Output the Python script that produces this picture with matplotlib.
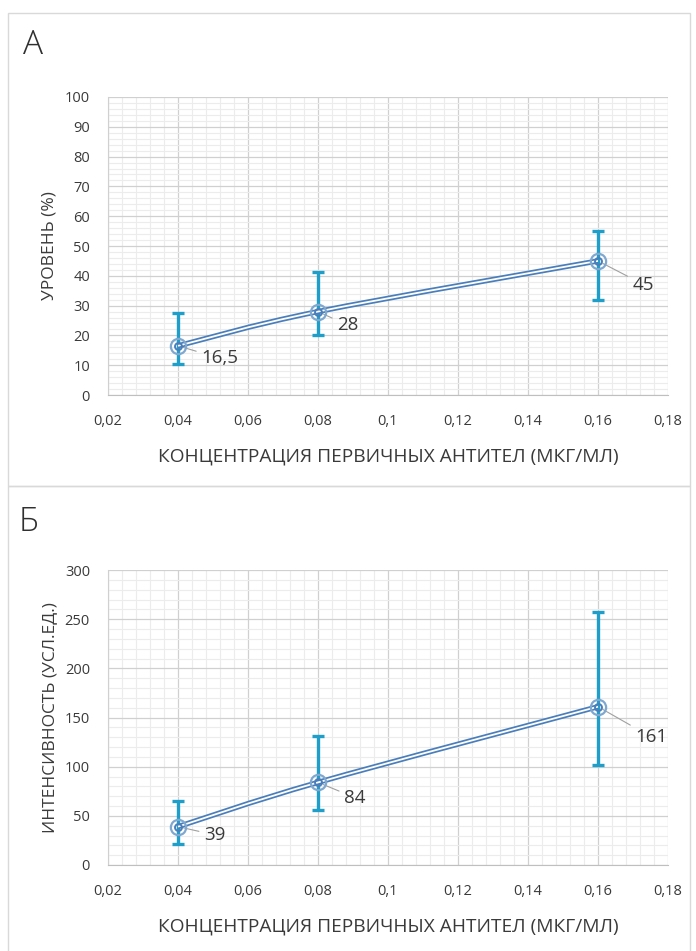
import matplotlib.pyplot as plt
import matplotlib.patheffects as pe
from matplotlib.patches import Rectangle, PathPatch
from matplotlib.path import Path
from matplotlib.ticker import MultipleLocator, FuncFormatter

plt.rcParams['font.family'] = ['Open Sans', 'DejaVu Sans']

# Концентрация первичных антител (мкг/мл)
konc = [0.04, 0.08, 0.16]

# Панель А: уровень (%)
uroven = [16.5, 28, 45]
uroven_err_niz = [6.2, 8.0, 13.0]
uroven_err_verh = [11.0, 13.2, 10.0]
uroven_podpisi = ['16,5', '28', '45']

# Панель Б: интенсивность (усл. ед.)
intens = [39, 84, 161]
intens_err_niz = [17.5, 28.0, 59.0]
intens_err_verh = [26.0, 47.0, 96.0]
intens_podpisi = ['39', '84', '161']

COLOR_LINE = '#4a7ebb'
COLOR_ERR = '#1e9ec8'
COLOR_TEXT = '#3a3a3a'
COLOR_GRID = '#d0d0d0'
COLOR_MINOR = '#ececec'

fig = plt.figure(figsize=(6.96, 9.51), dpi=100)
W, H = 696, 951


def px_box(x0, y0, x1, y1):
    # перевод пиксельных координат (сверху вниз) в доли фигуры
    return [x0 / W, 1 - y1 / H, (x1 - x0) / W, (y1 - y0) / H]


def comma_fmt(v, pos):
    s = f'{v:.2f}'.rstrip('0').rstrip('.')
    return s.replace('.', ',')


def smooth_path(xs, ys):
    # сглаженная линия как в Excel: кривые Безье по схеме Catmull-Rom
    pts = list(zip(xs, ys))
    ext = [pts[0]] + pts + [pts[-1]]
    verts = [pts[0]]
    codes = [Path.MOVETO]
    for i in range(1, len(ext) - 2):
        p0, p1, p2, p3 = ext[i - 1], ext[i], ext[i + 1], ext[i + 2]
        c1 = (p1[0] + (p2[0] - p0[0]) / 6, p1[1] + (p2[1] - p0[1]) / 6)
        c2 = (p2[0] - (p3[0] - p1[0]) / 6, p2[1] - (p3[1] - p1[1]) / 6)
        verts += [c1, c2, p2]
        codes += [Path.CURVE4] * 3
    return Path(verts, codes)


def draw_panel(box, y, err_lo, err_hi, labels, ymax, ystep, yminor,
               ylabel, offsets):
    ax = fig.add_axes(box)
    ax.set_xlim(0.02, 0.18)
    ax.set_ylim(0, ymax)
    ax.xaxis.set_major_locator(MultipleLocator(0.02))
    ax.xaxis.set_minor_locator(MultipleLocator(0.004))
    ax.yaxis.set_major_locator(MultipleLocator(ystep))
    ax.yaxis.set_minor_locator(MultipleLocator(yminor))
    ax.xaxis.set_major_formatter(FuncFormatter(comma_fmt))
    ax.grid(which='minor', color=COLOR_MINOR, lw=0.8)
    ax.grid(which='major', color=COLOR_GRID, lw=0.9)
    ax.set_axisbelow(True)
    for s in ['top', 'right']:
        ax.spines[s].set_visible(False)
    ax.spines['left'].set_color(COLOR_GRID)
    ax.spines['bottom'].set_color('#bfbfbf')
    ax.tick_params(which='both', length=0, labelsize=10.5,
                   labelcolor=COLOR_TEXT)
    ax.tick_params(axis='x', pad=14)
    ax.tick_params(axis='y', pad=13)

    ax.errorbar(konc, y, yerr=[err_lo, err_hi], fmt='none',
                ecolor=COLOR_ERR, elinewidth=2.4, capsize=4.5, capthick=2.4,
                zorder=3)
    # двойная линия: толстая синяя и белая сердцевина
    ax.add_patch(PathPatch(smooth_path(konc, y), fill=False, ec='white',
                           lw=1.3, zorder=4,
                           path_effects=[pe.Stroke(linewidth=3.8,
                                                   foreground=COLOR_LINE),
                                         pe.Normal()]))
    ax.plot(konc, y, 'o', ms=11, mfc='none', mec='#7fa8d0', mew=1.6,
            zorder=5)
    ax.plot(konc, y, 'o', ms=5, mfc='none', mec=COLOR_LINE, mew=1.4,
            zorder=5)

    for xv, yv, t, (dx, dy) in zip(konc, y, labels, offsets):
        ax.annotate(t, (xv, yv), xytext=(dx, dy), textcoords='offset points',
                    fontsize=13.5, color=COLOR_TEXT, ha='left', va='center',
                    arrowprops=dict(arrowstyle='-', color='#a0a0a0', lw=0.8,
                                    shrinkA=2, shrinkB=4))

    ax.set_ylabel(ylabel, fontsize=12.5, color=COLOR_TEXT, labelpad=5)
    ax.set_xlabel('КОНЦЕНТРАЦИЯ ПЕРВИЧНЫХ АНТИТЕЛ (МКГ/МЛ)', fontsize=13.8,
                  color=COLOR_TEXT, labelpad=13)
    return ax


# рамки панелей
for y0, y1 in [(13, 486), (486, 960)]:
    fig.patches.append(Rectangle((8 / W, 1 - y1 / H), 682 / W, (y1 - y0) / H,
                                 transform=fig.transFigure, fill=False,
                                 ec='#d9d9d9', lw=1.0))

draw_panel(px_box(108, 97, 668, 395), uroven, uroven_err_niz,
           uroven_err_verh, uroven_podpisi, 100, 10, 2, 'УРОВЕНЬ (%)',
           [(17, -9), (14, -10), (25, -17)])
fig.text(23 / W, 1 - 45 / H, 'А', fontsize=24, color='#303030',
         va='center', fontweight='light')

draw_panel(px_box(108, 570, 668, 865), intens, intens_err_niz,
           intens_err_verh, intens_podpisi, 300, 50, 10,
           'ИНТЕНСИВНОСТЬ (УСЛ.ЕД.)',
           [(19, -6), (19, -11), (27, -22)])
fig.text(19 / W, 1 - 522 / H, 'Б', fontsize=24, color='#303030',
         va='center', fontweight='light')

fig.savefig('out.png', dpi=100)
